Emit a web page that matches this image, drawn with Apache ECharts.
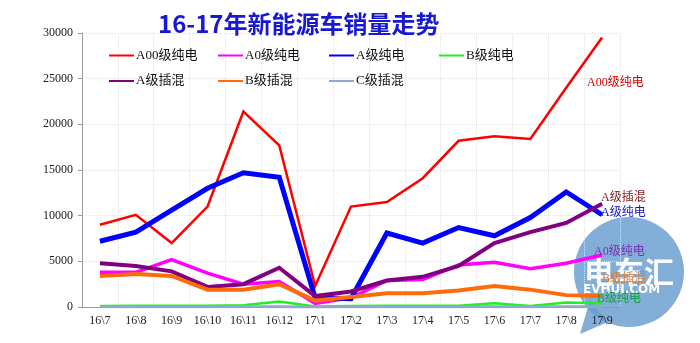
<!DOCTYPE html>
<html>
<head>
<meta charset="utf-8">
<script src="https://cdn.jsdelivr.net/npm/echarts@6/dist/echarts.min.js"></script>
<style>
  html, body { margin: 0; padding: 0; background: #fff; }
  #chart { width: 700px; height: 343px; }
</style>
</head>
<body>
<div id="chart"></div>
<script>
// Monthly new-energy vehicle sales, Jul 2016 – Sep 2017
const months = ['16\\7', '16\\8', '16\\9', '16\\10', '16\\11', '16\\12', '17\\1',
                '17\\2', '17\\3', '17\\4', '17\\5', '17\\6', '17\\7', '17\\8', '17\\9'];

const a00Bev = [9000, 10100, 7000, 11000, 21400, 17700, 2300, 11000, 11500, 14100, 18200, 18700, 18400, 24000, 29500];
const a0Bev  = [3800, 3800, 5200, 3700, 2500, 2800, 400, 1000, 2900, 3000, 4600, 4900, 4200, 4800, 5700];
const aBev   = [7200, 8200, 10600, 13000, 14700, 14200, 1000, 900, 8100, 7000, 8700, 7800, 9800, 12600, 10100];
const bBev   = [100, 150, 150, 150, 200, 600, 50, 100, 150, 150, 150, 400, 100, 500, 400];
const aPhev  = [4800, 4500, 3900, 2200, 2500, 4300, 1200, 1700, 2900, 3300, 4500, 7000, 8200, 9200, 11300];
const bPhev  = [3400, 3600, 3400, 1900, 1900, 2500, 700, 1100, 1500, 1500, 1800, 2300, 1900, 1300, 1200];
const cPhev  = [20, 20, 20, 20, 20, 30, 10, 20, 20, 20, 20, 30, 20, 30, 30];

const yTicks = { min: 0, max: 30000, interval: 5000 };

const seriesDefs = [
  { name: 'A00级纯电', data: a00Bev, color: '#ff0000', width: 2.5, labelColor: '#d40000', offset: [-15, 45] },
  { name: 'A0级纯电',  data: a0Bev,  color: '#ff00ff', width: 3.5, labelColor: '#7a2fb0', offset: [-8, -3] },
  { name: 'A级纯电',   data: aBev,   color: '#0000ff', width: 5,   labelColor: '#1212c8', offset: [-1, -2] },
  { name: 'B级纯电',   data: bBev,   color: '#22ee22', width: 2.5, labelColor: '#10a040', offset: [-5, -5] },
  { name: 'A级插混',   data: aPhev,  color: '#800080', width: 4,   labelColor: '#7a1c1c', offset: [-1, -6] },
  { name: 'B级插混',   data: bPhev,  color: '#ff6a0a', width: 4,   labelColor: '#e07a30', offset: [0, -17] },
  { name: 'C级插混',   data: cPhev,  color: '#8ea9d0', width: 3,   labelColor: null,      offset: [0, 0] }
];

const serifFont = '"Liberation Serif", "DejaVu Serif", "Noto Sans CJK SC", serif';
const cjkFont = '"Noto Sans CJK SC", sans-serif';

const series = seriesDefs.map(d => ({
  name: d.name,
  type: 'line',
  data: d.data,
  symbol: 'none',
  lineStyle: { color: d.color, width: d.width, join: 'miter' },
  itemStyle: { color: d.color },
  endLabel: d.labelColor ? {
    show: true,
    formatter: '{a}',
    distance: 0,
    offset: d.offset,
    color: d.labelColor,
    fontFamily: serifFont,
    fontSize: 12
  } : { show: false }
}));

// Legend laid out as a 4-column, 2-row block inside the plot area
const legendCols = [
  { left: 108, items: ['A00级纯电', 'A级插混'] },
  { left: 217, items: ['A0级纯电', 'B级插混'] },
  { left: 328, items: ['A级纯电', 'C级插混'] },
  { left: 438, items: ['B级纯电'] }
];
const legends = legendCols.map(c => ({
  data: c.items,
  orient: 'vertical',
  left: c.left,
  top: 49,
  padding: 0,
  itemWidth: 25,
  itemHeight: 14,
  itemGap: 12.5,
  itemStyle: { opacity: 0 },
  textStyle: { fontFamily: serifFont, fontSize: 13, color: '#111', padding: [0, 0, 0, -3] }
}));

const chart = echarts.init(document.getElementById('chart'), null, { renderer: 'canvas' });
chart.setOption({
  animation: false,
  backgroundColor: '#ffffff',
  title: {
    text: '16-17年新能源车销量走势',
    left: 153,
    top: 7,
    textStyle: { fontFamily: cjkFont, fontSize: 24, fontWeight: 'bold', color: '#1818d0' }
  },
  legend: legends,
  grid: { left: 82, right: 80, top: 33, bottom: 36, containLabel: false },
  xAxis: {
    type: 'category',
    data: months,
    boundaryGap: true,
    axisLine: { lineStyle: { color: '#999', width: 1 } },
    axisTick: { show: false },
    axisLabel: { fontFamily: serifFont, fontSize: 12, color: '#222', margin: 8, interval: 0 },
    splitLine: { show: true, interval: 0, lineStyle: { color: '#e2e2e2', width: 1, type: 'dotted' } }
  },
  yAxis: {
    type: 'value',
    min: yTicks.min,
    max: yTicks.max,
    interval: yTicks.interval,
    axisLine: { show: true, lineStyle: { color: '#999', width: 1 } },
    axisTick: { show: true, inside: false, length: 4, lineStyle: { color: '#999' } },
    axisLabel: { fontFamily: serifFont, fontSize: 12, color: '#222', margin: 9, formatter: v => String(v) },
    splitLine: { show: true, lineStyle: { color: '#e2e2e2', width: 1, type: 'dotted' } }
  },
  series: series,
  graphic: [
    {
      type: 'group',
      z: 100,
      children: [
        { type: 'circle', shape: { cx: 629, cy: 272, r: 55 }, style: { fill: 'rgba(104,156,206,0.82)' } },
        { type: 'polygon', shape: { points: [[590, 300], [608, 322], [580, 334]] }, style: { fill: 'rgba(104,156,206,0.82)' } },
        { type: 'text', style: { text: '电车汇', x: 629, y: 272, align: 'center', verticalAlign: 'middle',
            font: 'bold 30px "Noto Sans CJK SC", sans-serif', fill: 'rgba(255,255,255,0.95)' } },
        { type: 'text', style: { text: 'EVHUI.COM', x: 583, y: 290, align: 'left', verticalAlign: 'middle',
            font: 'bold 12px "DejaVu Sans", sans-serif', fill: '#ffffff' } }
      ]
    }
  ]
});
</script>
</body>
</html>
